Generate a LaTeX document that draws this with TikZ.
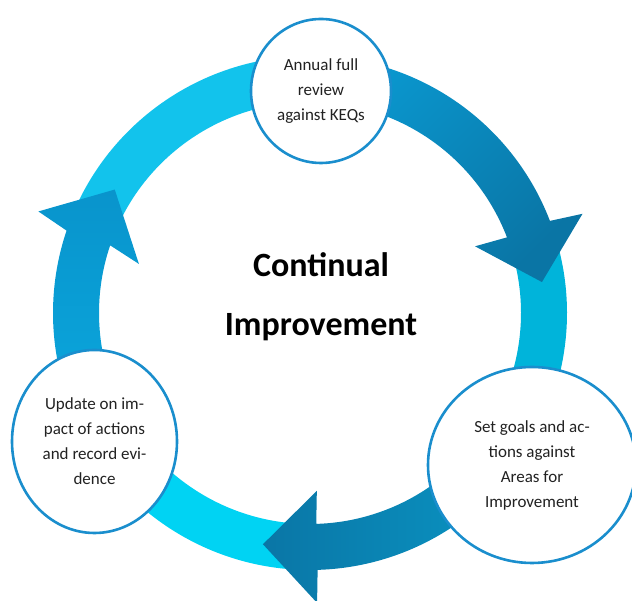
\documentclass[tikz,border=0pt]{standalone}
\usepackage{fontspec}
\setmainfont{Carlito}
\usetikzlibrary{shapes.geometric}
\definecolor{ringedge}{HTML}{1A8ECD}
\definecolor{labeltext}{HTML}{222222}
\definecolor{bandA}{HTML}{00B4DA}
\definecolor{bandB}{HTML}{00D3F3}
\definecolor{bandC}{HTML}{12C3EC}
\definecolor{arrowAlight}{HTML}{0A9BD3}
\definecolor{arrowAdark}{HTML}{0A75A5}
\definecolor{arrowBlight}{HTML}{0A97C5}
\definecolor{arrowBdark}{HTML}{0A76A6}
\definecolor{arrowClight}{HTML}{0AA7DD}
\definecolor{arrowCdark}{HTML}{0994CC}
\begin{document}
\begin{tikzpicture}[x=1pt,y=1pt,
  stage/.style={ellipse,draw=ringedge,line width=2.6pt,fill=white,inner sep=0pt,align=center,text=labeltext,font=\fontsize{17}{25}\selectfont},
  band/.style={line width=46pt}]
\useasboundingbox (0,0) rectangle (632,601);

\begin{scope}[shift={(310,288)}]
\draw[band,bandA] (21:234pt) arc[start angle=21,end angle=-42,radius=234pt];
\draw[band,bandB] (-88:234pt) arc[start angle=-88,end angle=-150,radius=234pt];
\draw[band,bandC] (161:234pt) arc[start angle=161,end angle=80,radius=234pt];

\shade[top color=arrowAlight,bottom color=arrowAdark,shading angle=45]
  (95:257pt) arc[start angle=95,end angle=21,radius=257pt] -- (20:290pt) -- (7.6:234pt)
  -- (22:178pt) -- (21:211pt) arc[start angle=21,end angle=95,radius=211pt] -- cycle;
\shade[left color=arrowBdark,right color=arrowBlight]
  (-30:257pt) arc[start angle=-30,end angle=-88.3,radius=257pt] -- (-88.6:290pt) -- (-101.5:236pt)
  -- (-87.8:178pt) -- (-88.3:211pt) arc[start angle=-88.3,end angle=-30,radius=211pt] -- cycle;
\shade[top color=arrowCdark,bottom color=arrowClight]
  (205:257pt) arc[start angle=205,end angle=161.3,radius=257pt] -- (159.5:290pt) -- (147.7:231pt)
  -- (164:178pt) -- (161.3:211pt) arc[start angle=161.3,end angle=205,radius=211pt] -- cycle;
\end{scope}

\node[stage,minimum width=140pt,minimum height=144pt] (review) at (321,510) {Annual full\\review\\against KEQs};
\node[stage,minimum width=208pt,minimum height=196pt] (goals) at (532,136) {Set goals and ac-\\tions against\\Areas for\\Improvement};
\node[stage,minimum width=165pt,minimum height=183pt] (update) at (94.5,159.5) {Update on im-\\pact of actions\\and record evi-\\dence};
\node[font=\fontsize{34}{59}\selectfont\bfseries,align=center] (title) at (321,304) {Continual\\Improvement};
\end{tikzpicture}
\end{document}
